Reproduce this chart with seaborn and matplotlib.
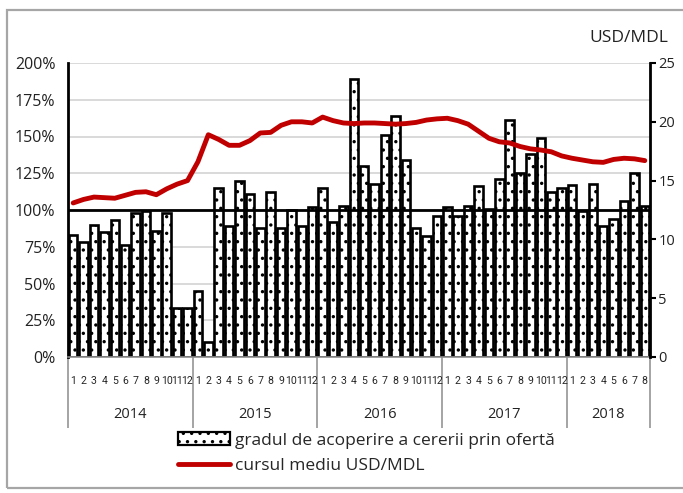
import numpy as np
import pandas as pd
import matplotlib
matplotlib.use("Agg")
import matplotlib.pyplot as plt
from matplotlib.patches import Patch, Rectangle
from matplotlib.lines import Line2D
import seaborn as sns

# ---------------- data ----------------
years = ["2014", "2015", "2016", "2017", "2018"]
months_per_year = [12, 12, 12, 12, 8]

coverage_pct = [
    # 2014
    83, 78, 90, 85, 93, 76, 98, 99, 86, 98, 33, 33,
    # 2015
    45, 10, 115, 89, 120, 111, 88, 112, 88, 100, 89, 102,
    # 2016
    115, 92, 103, 189, 130, 118, 151, 164, 134, 88, 82, 96,
    # 2017
    102, 96, 103, 116, 101, 121, 161, 125, 138, 149, 112, 115,
    # 2018
    117, 99, 118, 89, 94, 106, 125, 103,
]

usd_mdl = [
    # 2014
    13.1, 13.4, 13.6, 13.55, 13.5, 13.75, 14.0, 14.05, 13.8, 14.3, 14.7, 15.0,
    # 2015
    16.6, 18.9, 18.5, 18.0, 18.0, 18.4, 19.05, 19.1, 19.7, 20.0, 20.0, 19.9,
    # 2016
    20.4, 20.1, 19.9, 19.85, 19.9, 19.9, 19.85, 19.8, 19.85, 19.95, 20.15, 20.25,
    # 2017
    20.3, 20.1, 19.8, 19.2, 18.6, 18.3, 18.2, 17.9, 17.7, 17.6, 17.45, 17.1,
    # 2018
    16.9, 16.75, 16.6, 16.55, 16.8, 16.9, 16.85, 16.7,
]

left_ticks = [0, 25, 50, 75, 100, 125, 150, 175, 200]
left_tick_labels = ["0%", "25%", "50%", "75%", "100%", "125%", "150%", "175%", "200%"]
right_ticks = [0, 5, 10, 15, 20, 25]

bar_label = "gradul de acoperire a cererii prin ofertă"
line_label = "cursul mediu USD/MDL"
right_title = "USD/MDL"

# ---------------- derived frame ----------------
month_labels = []
period = []
for y, n in zip(years, months_per_year):
    for m in range(1, n + 1):
        month_labels.append(str(m))
        period.append(f"{y}-{m:02d}")
n_bars = len(period)
df = pd.DataFrame({"period": period, "coverage": coverage_pct,
                   "rate": usd_mdl, "idx": np.arange(n_bars)})

# ---------------- style ----------------
sns.set_theme(style="white")
plt.rcParams["font.family"] = ["Open Sans", "DejaVu Sans"]
plt.rcParams["hatch.linewidth"] = 1.2

W, H = 683, 493
fig = plt.figure(figsize=(W / 100, H / 100), dpi=100)
ax = fig.add_axes([68 / W, 1 - 357 / H, (650 - 68) / W, (357 - 63) / H])

# outer frame
fig.patches.append(Rectangle((7 / W, 5 / H), 1.2, 1 - 15 / H, transform=fig.transFigure,
                             fill=False, edgecolor="#A6A6A6", linewidth=1.6, zorder=0))

# bars
sns.barplot(data=df, x="period", y="coverage", ax=ax, color="white", saturation=1,
            edgecolor="black", linewidth=1.9, hatch="..", width=0.82, errorbar=None,
            zorder=2)

ax.set_ylim(0, 200)
ax.set_xlim(-0.5, n_bars - 0.5)
ax.set_yticks(left_ticks)
ax.set_yticklabels(left_tick_labels)
ax.yaxis.grid(True, color="#D9D9D9", linewidth=1.4, zorder=0)
ax.set_axisbelow(True)
ax.axhline(100, color="black", linewidth=2.0, zorder=3)
ax.set_xlabel("")
ax.set_ylabel("")

for s in ["top", "right"]:
    ax.spines[s].set_visible(False)
ax.spines["left"].set_color("black")
ax.spines["left"].set_linewidth(2)
ax.spines["bottom"].set_color("#8C8C8C")
ax.spines["bottom"].set_linewidth(1.2)
ax.tick_params(axis="y", length=0, pad=9, labelsize=11.5, colors="#222222")

# month labels and separators
ax.set_xticks(np.arange(n_bars))
ax.set_xticklabels(month_labels)
ax.tick_params(axis="x", which="major", length=0, pad=14, labelsize=7.6)
for lab in ax.get_xticklabels():
    lab.set_family(["Liberation Sans Narrow", "Roboto", "DejaVu Sans"])
    lab.set_stretch("condensed")
ax.set_xticks(np.arange(-0.5, n_bars, 1), minor=True)
ax.tick_params(axis="x", which="minor", length=25, width=1.1, color="#8C8C8C", direction="out")

# year labels and separators
bounds = np.concatenate([[0], np.cumsum(months_per_year)]) - 0.5
centers = (bounds[:-1] + bounds[1:]) / 2
sec = ax.secondary_xaxis("bottom")
sec.set_xticks(bounds)
sec.set_xticklabels([""] * len(bounds))
sec.tick_params(axis="x", which="major", length=51, width=1.1, color="#8C8C8C")
sec.set_xticks(centers, minor=True)
sec.set_xticklabels(years, minor=True)
sec.tick_params(axis="x", which="minor", length=0, pad=36, labelsize=10.5, labelcolor="#222222")
sec.spines["bottom"].set_visible(False)

# line on secondary axis
ax2 = ax.twinx()
sns.lineplot(data=df, x="idx", y="rate", ax=ax2, color="#C00000", linewidth=3.5, zorder=5)
ax2.set_ylim(0, 25)
ax2.set_yticks(right_ticks)
ax2.set_xlim(-0.5, n_bars - 0.5)
ax2.set_xlabel("")
ax2.set_ylabel("")
for s in ["top", "left", "bottom"]:
    ax2.spines[s].set_visible(False)
ax2.spines["right"].set_color("black")
ax2.spines["right"].set_linewidth(2)
ax2.tick_params(axis="y", length=4, width=1.5, color="black", pad=2, labelsize=10.5,
                labelcolor="#222222", direction="out")
ax2.grid(False)

fig.text(668 / W, 1 - 38 / H, right_title, ha="right", va="center", fontsize=12.5,
         color="#222222")

# legend
handles = [Patch(facecolor="white", edgecolor="black", hatch="..", linewidth=1.6),
           Line2D([0], [0], color="#C00000", linewidth=3.5)]
fig.legend(handles, [bar_label, line_label], loc="upper left",
           bbox_to_anchor=(178 / W, 1 - 432 / H), frameon=False, fontsize=12.5,
           handlelength=3.0, handleheight=0.8, handletextpad=0.3, labelspacing=0.5,
           borderaxespad=0, borderpad=0)

fig.savefig("out.png", dpi=100)
